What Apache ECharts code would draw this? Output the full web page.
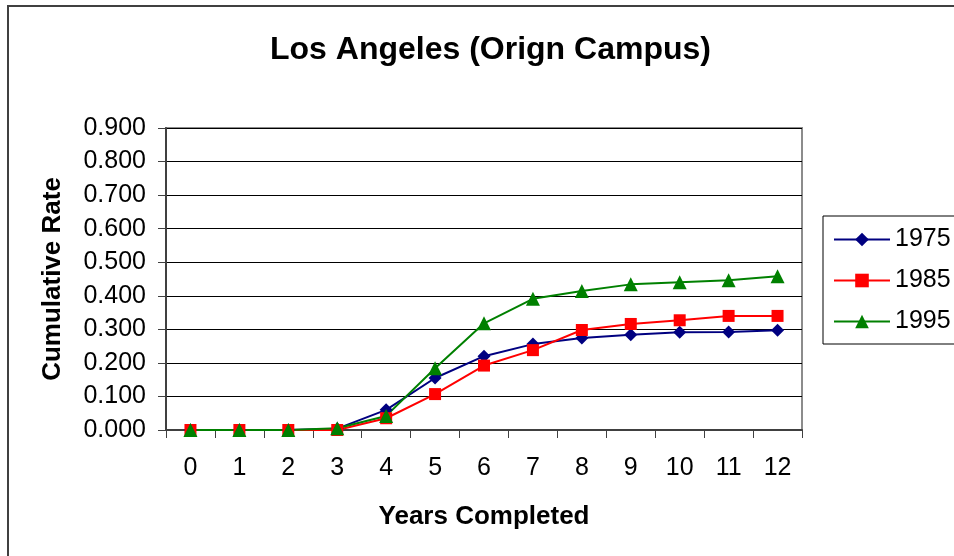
<!DOCTYPE html>
<html>
<head>
<meta charset="utf-8">
<script src="https://cdn.jsdelivr.net/npm/echarts@6/dist/echarts.min.js"></script>
<style>
  html, body { margin: 0; padding: 0; background: #fff; }
  #chart { width: 954px; height: 556px; }
</style>
</head>
<body>
<div id="chart"></div>
<script>
// years completed (x axis)
const years = ['0', '1', '2', '3', '4', '5', '6', '7', '8', '9', '10', '11', '12']

// cumulative rate per cohort
const rate1975 = [0, 0, 0, 0.004, 0.060, 0.155, 0.220, 0.256, 0.274, 0.284, 0.291, 0.292, 0.297]
const rate1985 = [0, 0, 0, 0.000, 0.035, 0.107, 0.192, 0.238, 0.298, 0.316, 0.327, 0.340, 0.340]
const rate1995 = [0, 0, 0, 0.005, 0.042, 0.184, 0.318, 0.391, 0.414, 0.434, 0.440, 0.446, 0.458]

const chart = echarts.init(document.getElementById('chart'))

const font = 'Liberation Sans, Arial, sans-serif'

function lineSeries(name, data, color, symbol, size) {
  return {
    name,
    type: 'line',
    data,
    symbol,
    symbolSize: size,
    showAllSymbol: true,
    lineStyle: { color, width: 2 },
    itemStyle: { color },
    emphasis: { disabled: true }
  }
}

const option = {
  animation: false,
  backgroundColor: '#fff',
  textStyle: { fontFamily: font },
  title: {
    text: 'Los Angeles (Orign Campus)',
    left: 265,
    top: 29,
    textStyle: { fontSize: 32, fontWeight: 'bold', color: '#000', fontFamily: font }
  },
  graphic: [
    {
      type: 'rect',
      shape: { x: 8, y: 6, width: 1000, height: 600 },
      style: { fill: 'none', stroke: '#404040', lineWidth: 2 },
      silent: true
    }
  ],
  legend: {
    orient: 'vertical',
    left: 823,
    top: 216,
    padding: [11, 10, 10, 10],
    itemGap: 16,
    itemWidth: 56,
    itemHeight: 17,
    borderColor: '#000',
    borderWidth: 1,
    textStyle: { fontSize: 25, color: '#000', fontFamily: font },
    data: ['1975', '1985', '1995']
  },
  grid: {
    left: 166,
    right: 152,
    top: 128,
    bottom: 126,
    show: true,
    borderColor: '#8c8c8c',
    borderWidth: 2
  },
  xAxis: {
    type: 'category',
    data: years,
    boundaryGap: true,
    name: 'Years Completed',
    nameLocation: 'middle',
    nameGap: 74,
    nameTextStyle: { fontSize: 26, fontWeight: 'bold', color: '#000' },
    axisLine: { lineStyle: { color: '#404040', width: 2 } },
    axisTick: { show: true, length: 8, lineStyle: { color: '#404040', width: 1 } },
    axisLabel: { fontSize: 25, color: '#000', margin: 26, interval: 0 },
    splitLine: { show: false }
  },
  yAxis: {
    type: 'value',
    min: 0,
    max: 0.9,
    interval: 0.1,
    name: 'Cumulative Rate',
    nameLocation: 'middle',
    nameRotate: 90,
    nameGap: 100,
    nameTextStyle: { fontSize: 26, fontWeight: 'bold', color: '#000' },
    axisLine: { show: true, lineStyle: { color: '#404040', width: 2 } },
    axisTick: { show: true, length: 8, lineStyle: { color: '#404040', width: 1 } },
    axisLabel: {
      fontSize: 25,
      color: '#000',
      margin: 20,
      formatter: v => v.toFixed(3)
    },
    splitLine: { show: true, lineStyle: { color: '#000', width: 1 } }
  },
  series: [
    lineSeries('1975', rate1975, '#000080', 'diamond', 13),
    lineSeries('1985', rate1985, '#ff0000', 'rect', 12),
    lineSeries('1995', rate1995, '#008000', 'triangle', 14)
  ]
}

chart.setOption(option)
</script>
</body>
</html>
